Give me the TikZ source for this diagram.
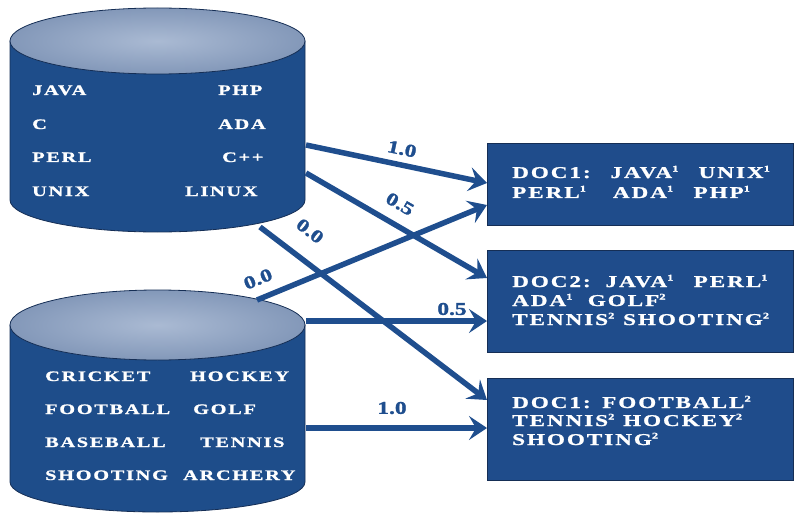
\documentclass[tikz,border=0pt]{standalone}
\usepackage{fontspec}
\setmainfont{Liberation Serif}
\newfontfamily\wfont[FakeStretch=1.4,LetterSpace=12,FakeBold=1.2]{Liberation Serif}
\newfontfamily\lfont[FakeStretch=1.3,FakeBold=1.5]{Liberation Serif}
\usetikzlibrary{arrows.meta}
\definecolor{cylblue}{HTML}{1E4D8A}
\definecolor{boxblue}{HTML}{1F4C8B}
\definecolor{arrowblue}{HTML}{1F4E8E}
\definecolor{lidin}{HTML}{AABAD3}
\definecolor{lidout}{HTML}{8398B9}
\definecolor{cyledge}{HTML}{152E55}
\newcommand\sx[1]{\textsuperscript{\fontsize{9}{9}\selectfont #1}}
\begin{document}
\begin{tikzpicture}[x=1pt,y=1pt,
  body/.style={fill=cylblue, draw=cyledge, line width=0.8pt},
  lid/.style={inner color=lidin, outer color=lidout, draw=cyledge, line width=0.8pt},
  word/.style={text=white, font=\wfont\bfseries\fontsize{14.5}{17}\selectfont, inner sep=0pt, anchor=base west},
  doctext/.style={text=white, font=\wfont\bfseries\fontsize{16.5}{19}\selectfont, inner sep=0pt, anchor=base west},
  docbox/.style={fill=boxblue, draw=cyledge, line width=0.8pt, minimum width=306pt, anchor=north west, inner sep=0pt},
  link/.style={draw=arrowblue, line width=5.5pt, -{Stealth[length=18pt,width=24pt,inset=7pt]}},
  wt/.style={text=arrowblue, font=\lfont\bfseries\fontsize{18}{20}\selectfont, inner sep=0pt}
]
\useasboundingbox (0,0) rectangle (795,515);
% top cylinder
\path[body] (10,474) -- (10,315) arc[start angle=180,end angle=360,x radius=147.5,y radius=32] -- (305,474) -- cycle;
\path[lid] (157.5,474) ellipse[x radius=147.5, y radius=33];
% bottom cylinder
\path[body] (10,190) -- (10,33) arc[start angle=180,end angle=360,x radius=147.5,y radius=30] -- (305,190) -- cycle;
\path[lid] (157.5,190) ellipse[x radius=147.5, y radius=35];
% top cylinder words
\node[word] (w1) at (32,420) {JAVA};
\node[word] (w2) at (218,420) {PHP};
\node[word] (w3) at (32,386) {C};
\node[word] (w4) at (218,386) {ADA};
\node[word] (w5) at (32,353) {PERL};
\node[word] (w6) at (222,353) {C++};
\node[word] (w7) at (32,319) {UNIX};
\node[word] (w8) at (185,319) {LINUX};
% bottom cylinder words
\node[word] (v1) at (45,134) {CRICKET};
\node[word] (v2) at (190,134) {HOCKEY};
\node[word] (v3) at (45,101) {FOOTBALL};
\node[word] (v4) at (193,101) {GOLF};
\node[word] (v5) at (45,68) {BASEBALL};
\node[word] (v6) at (200,68) {TENNIS};
\node[word] (v7) at (45,35) {SHOOTING};
\node[word] (v8) at (183,35) {ARCHERY};
% doc boxes
\node[docbox, minimum height=82pt] (doc1) at (487,372) {};
\node[docbox, minimum height=102pt] (doc2) at (487,265) {};
\node[docbox, minimum height=102pt] (doc3) at (487,137) {};
\node[doctext] (d1a) at (512,337) {DOC1:\hspace{1.2em}JAVA\sx1\hspace{1.2em}UNIX\sx1};
\node[doctext] (d1b) at (512,317) {PERL\sx1\hspace{1.6em}ADA\sx1\hspace{1.2em}PHP\sx1};
\node[doctext] (d2a) at (512,228) {DOC2:\hspace{0.9em}JAVA\sx1\hspace{1.2em}PERL\sx1};
\node[doctext] (d2b) at (512,209) {ADA\sx1\hspace{0.9em}GOLF\sx2};
\node[doctext] (d2c) at (512,190) {TENNIS\sx2\hspace{0.5em}SHOOTING\sx2};
\node[doctext] (d3a) at (512,107) {DOC1:\hspace{0.7em}FOOTBALL\sx2};
\node[doctext] (d3b) at (512,89) {TENNIS\sx2\hspace{0.5em}HOCKEY\sx2};
\node[doctext] (d3c) at (512,70) {SHOOTING\sx2};
% connectors
\coordinate (s1) at (306,370); \coordinate (e1) at (487,332);
\coordinate (s2) at (306,342); \coordinate (e2) at (487,237);
\coordinate (s3) at (260,288); \coordinate (e3) at (487,115);
\coordinate (s4) at (257,215); \coordinate (e4) at (487,310);
\coordinate (s5) at (306,194); \coordinate (e5) at (487,194);
\coordinate (s6) at (306,87);  \coordinate (e6) at (487,87);
\draw[link] (s1) -- (e1);
\draw[link] (s2) -- (e2);
\draw[link] (s3) -- (e3);
\draw[link] (s4) -- (e4);
\draw[link] (s5) -- (e5);
\draw[link] (s6) -- (e6);
\node[wt, rotate=-12] (l1) at (402,366) {1.0};
\node[wt, rotate=-30] (l2) at (400,311) {0.5};
\node[wt, rotate=-37.7] (l3) at (310,284) {0.0};
\node[wt, rotate=22.4] (l4) at (258,236) {0.0};
\node[wt] (l5) at (452,206) {0.5};
\node[wt] (l6) at (392,107) {1.0};
\end{tikzpicture}
\end{document}
